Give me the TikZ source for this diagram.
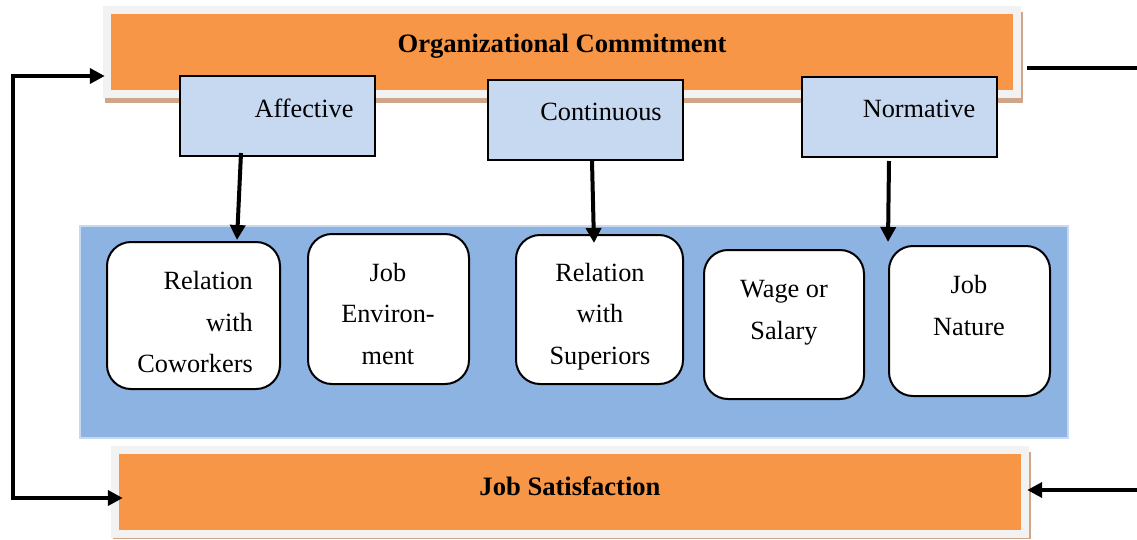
\documentclass[tikz,border=0pt]{standalone}
\usepackage{fontspec}
\setmainfont{Liberation Serif}
\usetikzlibrary{arrows.meta,calc}
\definecolor{orng}{HTML}{F79646}
\definecolor{framegray}{HTML}{F2F2F2}
\definecolor{shadowbr}{HTML}{CFA68A}
\definecolor{lblue}{HTML}{C6D9F1}
\definecolor{pblue}{HTML}{8DB3E2}
\definecolor{pedge}{HTML}{C6D9F1}
\begin{document}
\begin{tikzpicture}[x=1pt,y=-1pt,
  bar/.style={fill=orng,draw=none,minimum width=902pt,minimum height=76pt,inner sep=0pt},
  bartext/.style={font=\fontsize{26.6}{30}\selectfont\bfseries,inner sep=0pt},
  subbox/.style={fill=lblue,draw=black,line width=2pt,minimum width=195pt,minimum height=80pt,inner sep=0pt},
  subtext/.style={font=\fontsize{26.3}{30}\selectfont,inner sep=0pt},
  rbox/.style={fill=white,draw=black,line width=2pt,rounded corners=24pt,inner sep=0pt},
  rtext/.style={font=\fontsize{26.3}{41.5}\selectfont,inner sep=0pt},
  conn/.style={line width=4pt,draw=black},
  tip/.tip={Triangle[length=15pt,width=15pt]}
]
\useasboundingbox (0,0) rectangle (1137,539);

% top bar decoration
\fill[shadowbr] (105,12) rectangle (1023,103);
\fill[framegray] (103,6) rectangle (1021,98);
\node[bar] (oc) at (562,52) {};
\node[bartext] (octxt) at (562,46.5) {Organizational Commitment};

% panel
\node[fill=pblue,draw=pedge,line width=1.5pt,minimum width=988pt,minimum height=212pt,inner sep=0pt] (panel) at (574,332) {};

% bottom bar decoration
\fill[shadowbr] (113,452) rectangle (1031,539);
\fill[framegray] (111,446) rectangle (1029,538);
\node[bar] (js) at (570,492) {};
\node[bartext] (jstxt) at (570,486.5) {Job Satisfaction};

% rounded boxes
\node[rbox,minimum width=173pt,minimum height=147pt] (cw) at (193.5,315.5) {};
\node[rtext,align=right,anchor=east] (cwtxt) at (253,322) {Relation\\with\\Coworkers};
\node[rbox,minimum width=161pt,minimum height=150pt] (je) at (388.5,309) {};
\node[rtext,align=center] (jetxt) at (388,313.5) {Job\\Environ-\\ment};
\node[rbox,minimum width=167pt,minimum height=149pt] (rs) at (599.5,309.5) {};
\node[rtext,align=center] (rstxt) at (600,316.5) {Relation\\with\\Superiors};
\node[rbox,minimum width=160pt,minimum height=149pt] (ws) at (784,324.5) {};
\node[rtext,align=center] (wstxt) at (784,312.5) {Wage or\\Salary};
\node[rbox,minimum width=161pt,minimum height=150pt] (jn) at (969.5,321) {};
\node[rtext,align=center] (jntxt) at (969,305.5) {Job\\Nature};

% sub boxes
\node[subbox] (aff) at (277.5,116) {};
\node[subtext] (afftxt) at (304,108) {Affective};
\node[subbox] (cont) at (585.5,120) {};
\node[subtext] (conttxt) at (601,112) {Continuous};
\node[subbox] (norm) at (899.5,117) {};
\node[subtext] (normtxt) at (919,109) {Normative};

% arrows from sub boxes
\draw[conn,-tip] ($(aff.south)+(-36.5,-4)$) -- ($(cw.north)+(43.5,-1)$);
\draw[conn,-tip] ($(cont.south)+(6.5,0)$) -- ($(rs.north)+(-5.5,9)$);
\draw[conn,-tip] ($(norm.south)+(-10.5,3)$) -- ($(jn.north west)+(0,-3)$);

% left feedback connector
\draw[conn,tip-tip,line join=miter] ($(oc.west)+(-6,24)$) -- ++(-92,0) |- ($(js.west)+(4,6)$);

% right lines
\coordinate (rt) at (1137,68);
\coordinate (rb) at (1137,490);
\draw[conn] ($(oc.east)+(14,16)$) -- (rt);
\draw[conn,-tip] (rb) -- ($(js.east)+(6,-2)$);
\end{tikzpicture}
\end{document}
